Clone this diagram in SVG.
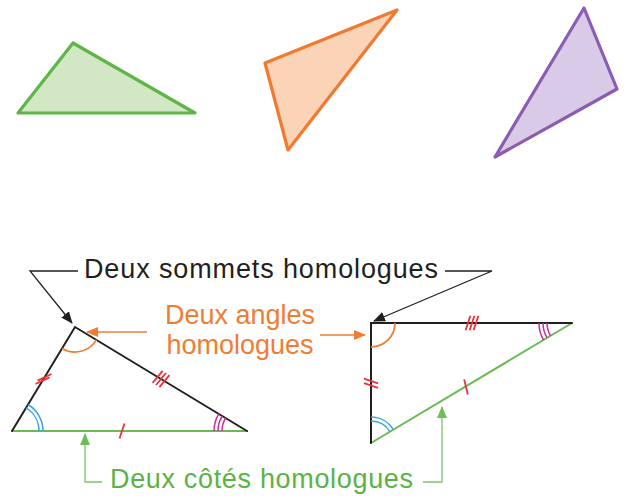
<svg xmlns="http://www.w3.org/2000/svg" width="630" height="498" viewBox="0 0 630 498">
<style>
.t{font-family:"Liberation Sans",Arial,sans-serif;font-size:27px}
.tri{stroke-width:3.2;stroke-linejoin:round}
.edge{fill:none;stroke-width:2;stroke-linecap:round}
.blk{stroke:#231f20}
.grn{stroke:#6aba52}
.tick{stroke:#e8323c;stroke-width:1.8;fill:none}
.arcO{stroke:#ef7d34;stroke-width:1.8;fill:none}
.arcB{stroke:#3aa6de;stroke-width:1.5;fill:none}
.arcM{stroke:#c52f9f;stroke-width:1.5;fill:none}
.lead{fill:none;stroke-width:1.3}
</style>
<defs>
<marker id="ahK" markerUnits="userSpaceOnUse" markerWidth="12" markerHeight="10" refX="11" refY="5" orient="auto"><path d="M0,0 L12,5 L0,10 Z" fill="#231f20"/></marker>
<marker id="ahO" markerUnits="userSpaceOnUse" markerWidth="12" markerHeight="10" refX="11" refY="5" orient="auto"><path d="M0,0 L12,5 L0,10 Z" fill="#ef7d34"/></marker>
<marker id="ahG" markerUnits="userSpaceOnUse" markerWidth="12" markerHeight="10" refX="11" refY="5" orient="auto"><path d="M0,0 L12,5 L0,10 Z" fill="#6fbd58"/></marker>
</defs>

<g id="shape-green">
<polygon class="tri" points="18,113 73,43 195,113" fill="#d2e8c4" stroke="#5fb548"/>
</g>
<g id="shape-orange">
<polygon class="tri" points="265,63 397,10 288,150" fill="#fbd3b6" stroke="#f07a30"/>
</g>
<g id="shape-purple">
<polygon class="tri" points="584,8 617,89 495,157" fill="#d9cae7" stroke="#8b5cb1"/>
</g>

<g id="triangle-left">
<line class="edge grn" x1="12" y1="431" x2="247" y2="431"/>
<polyline class="edge blk" points="12,431 75,327 247,431" stroke-linejoin="miter"/>
<line class="tick" x1="37.5" y1="380.6" x2="51.5" y2="374"/>
<line class="tick" x1="35.5" y1="384" x2="49.5" y2="377.4"/>
<line class="tick" x1="152.6" y1="382.9" x2="162.6" y2="370.9"/>
<line class="tick" x1="156" y1="385" x2="166" y2="373"/>
<line class="tick" x1="159.4" y1="387.1" x2="169.4" y2="375.1"/>
<line class="tick" x1="119.5" y1="438.5" x2="124.5" y2="423.5"/>
<path class="arcO" d="M62.1,348.4 A25,25 0 0 0 96.4,339.9"/>
<path class="arcB" d="M26,407.9 A27,27 0 0 1 39,431"/>
<path class="arcB" d="M28.1,404.5 A31,31 0 0 1 43,431"/>
<path class="arcM" d="M225.6,418.1 A25,25 0 0 0 222,431"/>
<path class="arcM" d="M222.2,416 A29,29 0 0 0 218,431"/>
<path class="arcM" d="M218.8,413.9 A33,33 0 0 0 214,431"/>
</g>

<g id="triangle-right">
<line class="edge grn" x1="371" y1="443" x2="572" y2="323"/>
<polyline class="edge blk" points="572,323 371,323 371,443" stroke-linejoin="miter"/>
<path class="arcO" d="M395,323 A24,24 0 0 1 371,347"/>
<line class="tick" x1="465.6" y1="330.2" x2="470.4" y2="315.8"/>
<line class="tick" x1="469.6" y1="330.2" x2="474.4" y2="315.8"/>
<line class="tick" x1="473.6" y1="330.2" x2="478.4" y2="315.8"/>
<line class="tick" x1="364" y1="378.7" x2="378" y2="383.3"/>
<line class="tick" x1="364" y1="383.2" x2="378" y2="387.8"/>
<line class="tick" x1="464.2" y1="379.5" x2="467.8" y2="394.5"/>
<path class="arcM" d="M550.5,335.8 A25,25 0 0 1 547,323"/>
<path class="arcM" d="M547.1,337.9 A29,29 0 0 1 543,323"/>
<path class="arcM" d="M543.6,340 A33,33 0 0 1 539,323"/>
<path class="arcB" d="M371,421 A22,22 0 0 1 389.9,431.7"/>
<path class="arcB" d="M371,417 A26,26 0 0 1 393.3,429.7"/>
</g>

<g id="label-sommets">
<text class="t" x="84" y="278" fill="#231f20" textLength="354" lengthAdjust="spacing">Deux sommets homologues</text>
</g>
<g id="label-angles">
<text class="t" x="240" y="324" fill="#ef7d34" text-anchor="middle">Deux angles</text>
<text class="t" x="240" y="354" fill="#ef7d34" text-anchor="middle">homologues</text>
</g>
<g id="label-cotes">
<text class="t" x="110" y="488" fill="#5db145" textLength="303" lengthAdjust="spacing">Deux côtés homologues</text>
</g>

<g id="connectors">
<polyline class="lead" stroke="#231f20" points="78,271 30,271 72,323" marker-end="url(#ahK)"/>
<polyline class="lead" stroke="#231f20" points="445,271 492,271 374,321" marker-end="url(#ahK)"/>
<line class="lead" stroke="#ef7d34" x1="147" y1="332" x2="87" y2="332" marker-end="url(#ahO)"/>
<line class="lead" stroke="#ef7d34" x1="320" y1="335" x2="365" y2="335" marker-end="url(#ahO)"/>
<polyline class="lead" stroke="#7cc466" points="102,482 85,482 85,434" marker-end="url(#ahG)"/>
<polyline class="lead" stroke="#7cc466" points="423,482 442,482 442,407" marker-end="url(#ahG)"/>
</g>
</svg>
